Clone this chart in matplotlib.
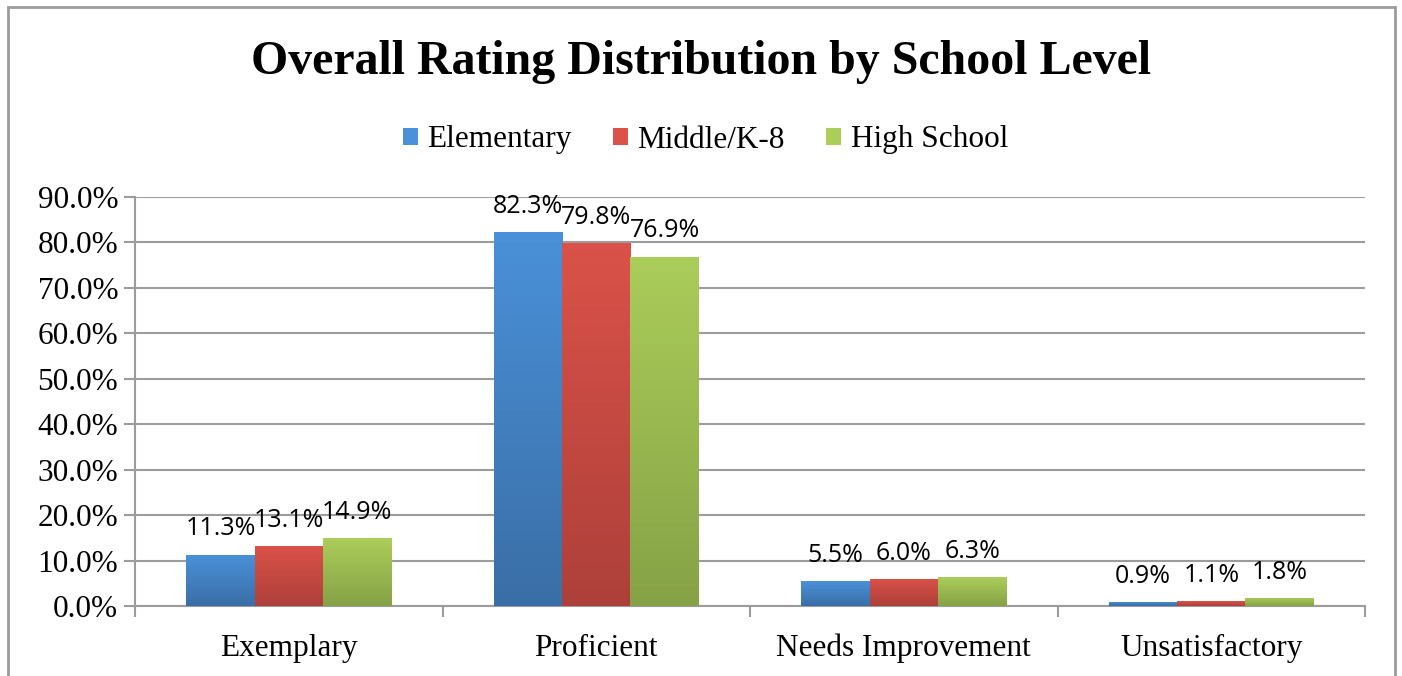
import numpy as np
import matplotlib
matplotlib.use("Agg")
import matplotlib.pyplot as plt
from matplotlib.colors import LinearSegmentedColormap
from matplotlib.patches import Rectangle

# ---- data ----
categories = ["Exemplary", "Proficient", "Needs Improvement", "Unsatisfactory"]
series_names = ["Elementary", "Middle/K-8", "High School"]
elementary = [11.3, 82.3, 5.5, 0.9]
middle = [13.1, 79.8, 6.0, 1.1]
high = [14.9, 76.9, 6.3, 1.8]
yticks = [0, 10, 20, 30, 40, 50, 60, 70, 80, 90]

# top (light) / bottom (dark) colours for the gradient
tops = ["#4a91d9", "#da5249", "#abcd5a"]
bottoms = ["#3a6ea6", "#ad403a", "#86a246"]

serif = "Liberation Serif"
sans = "Open Sans"
grid_col = "#9c9c9c"
lab_size = 22.5

fig = plt.figure(figsize=(14.02, 6.76), dpi=100)
ax = fig.add_axes([135 / 1402, 70 / 676, 1230 / 1402, 409 / 676])

# outer chart frame
fig.patches.append(Rectangle((8 / 1402, -0.05), 1387 / 1402, 1.04, transform=fig.transFigure,
                             fill=False, edgecolor=grid_col, linewidth=2))

x = np.arange(len(categories))
w = 2 / 3 / 3
values = [elementary, middle, high]

for i, vals in enumerate(values):
    pos = x + (i - 1) * w + 0.5
    bars = ax.bar(pos, vals, width=w, color=tops[i], zorder=3, linewidth=0)
    cmap = LinearSegmentedColormap.from_list("g%d" % i, [bottoms[i], tops[i]])
    grad = np.linspace(0, 1, 256).reshape(-1, 1)
    for b, v in zip(bars, vals):
        im = ax.imshow(grad, cmap=cmap, aspect="auto", origin="lower",
                       extent=[b.get_x(), b.get_x() + b.get_width(), 0, v], zorder=4)
        im.set_clip_path(b)
        ax.text(b.get_x() + b.get_width() / 2, v + 2.9, "%.1f%%" % v, ha="center", va="bottom",
                fontsize=18, family=sans, zorder=5)

ax.set_xlim(0, len(categories))
ax.set_ylim(0, 90)
ax.set_yticks(yticks)
ax.set_yticklabels(["%.1f%%" % t for t in yticks], family=serif, fontsize=lab_size)
ax.set_xticks(np.arange(len(categories) + 1))
ax.set_xticklabels([])
ax.set_xticks(x + 0.5, minor=True)
ax.set_xticklabels(categories, minor=True, family=serif, fontsize=lab_size)
ax.tick_params(axis="x", which="minor", length=0, pad=20)
ax.tick_params(axis="x", which="major", length=8, width=1.5, color=grid_col)
ax.tick_params(axis="y", length=8, width=1.5, color=grid_col, pad=4)

ax.grid(axis="y", color=grid_col, linewidth=1.5, zorder=1)
ax.set_axisbelow(True)
for s in ["top", "right"]:
    ax.spines[s].set_visible(False)
for s in ["left", "bottom"]:
    ax.spines[s].set_color(grid_col)
    ax.spines[s].set_linewidth(1.5)

fig.text(0.5, 1 - 62 / 676, "Overall Rating Distribution by School Level", ha="center", va="center",
         family=serif, fontweight="bold", fontsize=34.5)

handles = [Rectangle((0, 0), 1, 1, facecolor=tops[i]) for i in range(3)]
fig.legend(handles, series_names, loc="center", bbox_to_anchor=(0.503, 1 - 140 / 676), ncol=3,
           frameon=False, prop={"family": serif, "size": lab_size}, handlelength=0.5, handleheight=0.5,
           handletextpad=0.3, columnspacing=1.3)

fig.savefig("out.png", dpi=100)
